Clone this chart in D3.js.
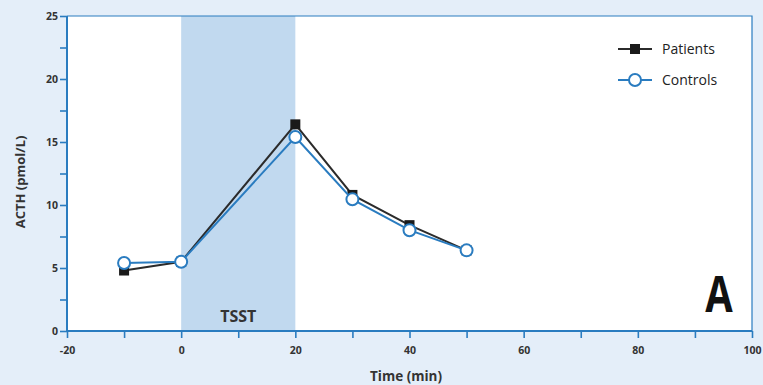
<!DOCTYPE html>
<html><head><meta charset="utf-8">
<script src="https://cdn.jsdelivr.net/npm/d3@7"></script>
<style>
html,body{margin:0;padding:0;background:#e4eef9;}
svg{display:block;}
text{font-family:"Liberation Sans Narrow","Open Sans",sans-serif;}
</style></head><body>
<svg id="c" width="763" height="385"></svg>
<script>
const times = [-10, 0, 20, 30, 40, 50];
const patients = [4.8, 5.5, 16.4, 10.8, 8.4, 6.4];
const controls = [5.4, 5.5, 15.4, 10.45, 8.0, 6.4];
const xTickLabels = [-20, 0, 20, 40, 60, 80, 100];
const yTickLabels = [0, 5, 10, 15, 20, 25];
const tsstWindow = [0, 20];

const svg = d3.select("#c");
const L = 67, R = 752, T = 16, B = 331;
const x = d3.scaleLinear().domain([-20, 100]).range([L, R]);
const y = d3.scaleLinear().domain([0, 25]).range([B, T]);
const blue = "#2a7cc0";

svg.append("rect").attr("x", L).attr("y", T).attr("width", R - L).attr("height", B - T).attr("fill", "#fff");
svg.append("rect").attr("x", x(tsstWindow[0])).attr("y", T).attr("width", x(tsstWindow[1]) - x(tsstWindow[0])).attr("height", B - T).attr("fill", "#c1d9ef");

// frame top/right
svg.append("path").attr("d", `M${L},${T}H${R}V${B}`).attr("fill", "none").attr("stroke", blue).attr("stroke-width", 1.2);

// axes
const xAxis = d3.axisBottom(x).tickValues(d3.range(-20, 101, 10)).tickSize(7)
  .tickFormat(d => xTickLabels.includes(d) ? d : "");
const gx = svg.append("g").attr("transform", `translate(0,${B})`).call(xAxis);
const yAxis = d3.axisLeft(y).tickValues(d3.range(0, 25.1, 2.5)).tickSize(7)
  .tickFormat(d => yTickLabels.includes(d) ? d : "");
const gy = svg.append("g").attr("transform", `translate(${L},0)`).call(yAxis);
[gx, gy].forEach(g => {
  g.select(".domain").attr("stroke", blue).attr("stroke-width", 2);
  g.selectAll(".tick line").attr("stroke", blue).attr("stroke-width", 1.6);
  g.selectAll(".tick text").attr("fill", "#333").attr("font-size", 10.5).attr("font-weight", "bold")
   .attr("font-family", '"Liberation Sans Narrow","Open Sans",sans-serif');
});
gx.select(".domain").attr("d", `M${L},0H${R}`);
gy.select(".domain").attr("d", `M0,${B}V${T}`);
gx.selectAll(".tick text").attr("dy", "1.2em");
gy.selectAll(".tick text").attr("x", -9);

// axis titles
svg.append("text").attr("x", 406).attr("y", 381).attr("text-anchor", "middle")
  .attr("font-size", 13.5).attr("font-weight", "bold").attr("fill", "#333").text("Time (min)");
svg.append("text").attr("transform", `translate(25,182) rotate(-90)`).attr("text-anchor", "middle")
  .attr("font-size", 13).attr("font-weight", "bold").attr("fill", "#333").text("ACTH (pmol/L)");

// labels
svg.append("text").attr("x", x(10)).attr("y", 322).attr("text-anchor", "middle")
  .attr("font-size", 16).attr("font-weight", "bold").attr("fill", "#333").text("TSST");
svg.append("text").attr("transform", "translate(719,312) scale(0.78,1)").attr("text-anchor", "middle")
  .attr("font-size", 51).attr("font-weight", "bold").attr("fill", "#111")
  .attr("font-family", '"Liberation Sans",sans-serif').text("A");

const line = d3.line().x(d => x(d[0])).y(d => y(d[1]));
const pData = times.map((t, i) => [t, patients[i]]);
const cData = times.map((t, i) => [t, controls[i]]);

svg.append("path").attr("d", line(pData)).attr("fill", "none").attr("stroke", "#2b2b2b").attr("stroke-width", 2);
svg.selectAll(".pm").data(pData).enter().append("rect")
  .attr("x", d => x(d[0]) - 5).attr("y", d => y(d[1]) - 5).attr("width", 10).attr("height", 10).attr("fill", "#1a1a1a");
svg.append("path").attr("d", line(cData)).attr("fill", "none").attr("stroke", "#2a7cc0").attr("stroke-width", 2);
svg.selectAll(".cm").data(cData).enter().append("circle")
  .attr("cx", d => x(d[0])).attr("cy", d => y(d[1])).attr("r", 6).attr("fill", "#fff")
  .attr("stroke", "#2a7cc0").attr("stroke-width", 2);

// legend
const lg = svg.append("g");
lg.append("line").attr("x1", 618).attr("x2", 652).attr("y1", 49).attr("y2", 49).attr("stroke", "#2b2b2b").attr("stroke-width", 2);
lg.append("rect").attr("x", 630).attr("y", 44).attr("width", 10).attr("height", 10).attr("fill", "#1a1a1a");
lg.append("text").attr("x", 662).attr("y", 54).attr("font-size", 14).attr("fill", "#222").text("Patients");
lg.append("line").attr("x1", 618).attr("x2", 652).attr("y1", 80).attr("y2", 80).attr("stroke", blue).attr("stroke-width", 2);
lg.append("circle").attr("cx", 635).attr("cy", 80).attr("r", 6).attr("fill", "#fff").attr("stroke", blue).attr("stroke-width", 2);
lg.append("text").attr("x", 662).attr("y", 85).attr("font-size", 14).attr("fill", "#222").text("Controls");
</script></body></html>
